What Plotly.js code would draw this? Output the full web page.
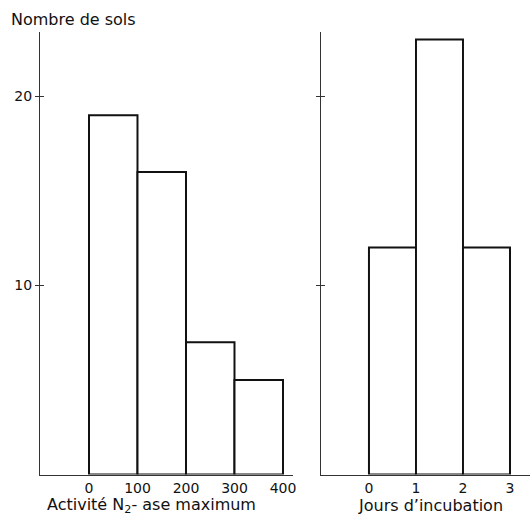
<!DOCTYPE html>
<html>
<head>
<meta charset="utf-8">
<script src="https://cdn.plot.ly/plotly-3.0.1.min.js"></script>
<style>html,body{margin:0;padding:0;background:#fff;}#chart{width:530px;height:515px;}</style>
</head>
<body>
<div id="chart"></div>
<script>
// Left panel: maximum N2-ase activity histogram
const activityEdges = [0, 100, 200, 300, 400];
const activityCounts = [19, 16, 7, 5];
// Right panel: incubation days histogram
const dayEdges = [0, 1, 2, 3];
const dayCounts = [12, 23, 12];

const yTickVals = [10, 20];
const yTickText = ['10', '20'];

const yLabel = 'Nombre de sols';
const leftXLabel = 'Activité N<sub>2</sub>- ase maximum';
const rightXLabel = 'Jours d’incubation';

function centers(edges) {
  const c = [];
  for (let i = 0; i < edges.length - 1; i++) c.push((edges[i] + edges[i + 1]) / 2);
  return c;
}
function widths(edges) {
  const w = [];
  for (let i = 0; i < edges.length - 1; i++) w.push(edges[i + 1] - edges[i]);
  return w;
}

const FONT = 'DejaVu Sans';
const INK = '#111';
const AXIS = '#333';

const barStyle = {color: '#fff', line: {color: INK, width: 2}};

const traces = [
  {type: 'bar', x: centers(activityEdges), y: activityCounts, width: widths(activityEdges),
   marker: barStyle, xaxis: 'x', yaxis: 'y', hoverinfo: 'x+y'},
  {type: 'bar', x: centers(dayEdges), y: dayCounts, width: widths(dayEdges),
   marker: barStyle, xaxis: 'x2', yaxis: 'y2', hoverinfo: 'x+y'}
];

// inner half of the crossing tick marks (minor ticks must not coincide exactly with major ones)
const innerTickVals = yTickVals.map(v => v + 1e-6);

const yDom = [0.0786, 0.9379];
const baseX = {
  showline: true, linecolor: AXIS, linewidth: 1.5, zeroline: false, showgrid: false,
  ticks: '', tickfont: {family: FONT, size: 14, color: INK}, fixedrange: true
};
const baseY = {
  showline: true, linecolor: AXIS, linewidth: 1.5, zeroline: false, showgrid: false,
  range: [0, 23.4], tickvals: yTickVals, ticktext: yTickText,
  ticks: 'outside', ticklen: 4, tickwidth: 1.5, tickcolor: AXIS,
  minor: {tickmode: 'array', tickvals: innerTickVals, ticks: 'inside', ticklen: 4, tickwidth: 1.5, tickcolor: AXIS, showgrid: false},
  tickfont: {family: FONT, size: 14, color: INK}, domain: yDom, fixedrange: true
};

const layout = {
  width: 530, height: 515,
  margin: {l: 0, r: 0, t: 0, b: 0},
  paper_bgcolor: '#fff', plot_bgcolor: 'rgba(0,0,0,0)',
  showlegend: false, bargap: 0,
  font: {family: FONT, color: INK},
  xaxis: Object.assign({}, baseX, {domain: [0.0764, 0.5528], range: [-100, 420.6],
    tickvals: activityEdges, anchor: 'y'}),
  yaxis: Object.assign({}, baseY, {anchor: 'x'}),
  xaxis2: Object.assign({}, baseX, {domain: [0.6057, 1], range: [-1.02, 3.426],
    tickvals: dayEdges, anchor: 'y2'}),
  yaxis2: Object.assign({}, baseY, {anchor: 'x2', showticklabels: false}),
  annotations: [
    {text: yLabel, xref: 'paper', yref: 'paper', x: 9 / 530, y: (515 - 20) / 515,
     xanchor: 'left', yanchor: 'middle', showarrow: false, font: {family: FONT, size: 16, color: INK}},
    {text: leftXLabel, xref: 'paper', yref: 'paper', x: 151 / 530, y: (515 - 505) / 515,
     xanchor: 'center', yanchor: 'middle', showarrow: false, font: {family: FONT, size: 16, color: INK}},
    {text: rightXLabel, xref: 'paper', yref: 'paper', x: 430 / 530, y: (515 - 505) / 515,
     xanchor: 'center', yanchor: 'middle', showarrow: false, font: {family: FONT, size: 16, color: INK}}
  ]
};

Plotly.newPlot('chart', traces, layout, {displayModeBar: false, staticPlot: true});
</script>
</body>
</html>
